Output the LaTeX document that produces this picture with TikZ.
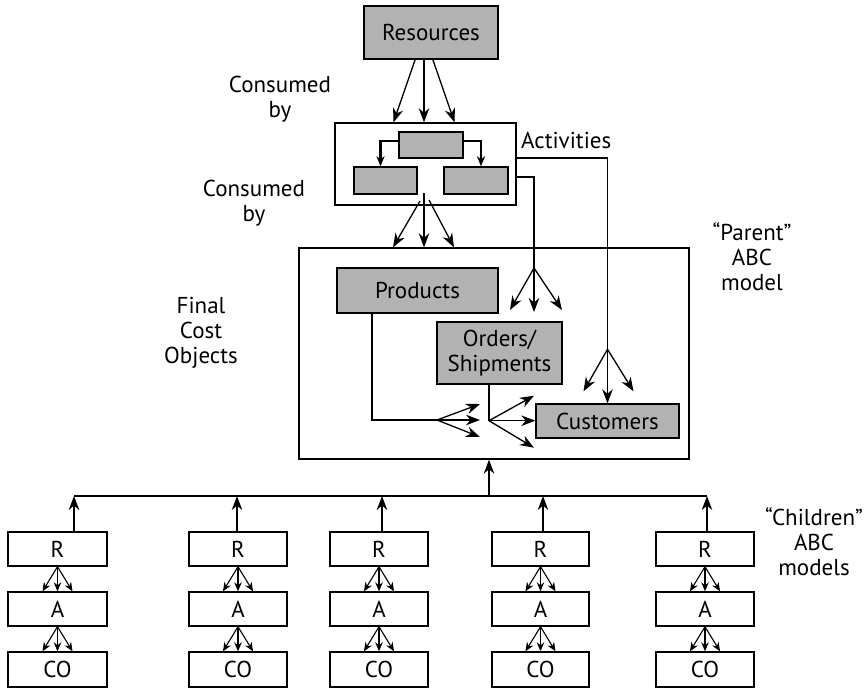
\documentclass[tikz,border=0pt]{standalone}
\usepackage{fontspec}
\setmainfont{PT Sans}
\usetikzlibrary{arrows.meta,positioning,calc,backgrounds}

\definecolor{boxgrey}{gray}{0.7}
\tikzset{
  greybox/.style={draw, line width=1.4pt, fill=boxgrey, inner sep=0pt, align=center},
  whitebox/.style={draw, line width=1.4pt, fill=white, inner sep=0pt, align=center},
  lbl/.style={inner sep=0pt, align=center},
  line/.style={line width=1.3pt},
  link/.style={line width=1.3pt, -{Stealth[length=14pt,width=10.5pt,inset=4.5pt]}},
  thicklink/.style={line width=2.2pt, -{Stealth[length=10pt,width=8pt,inset=3pt]}},
  kidlink/.style={line width=1.1pt, -{Stealth[length=9pt,width=7.5pt,inset=3pt]}}
}

\begin{document}
\begin{tikzpicture}[x=1pt,y=-1pt,font=\fontsize{23}{25}\selectfont]
  \useasboundingbox (0,0) rectangle (867,689);

  % parent model
  \node[greybox, minimum width=134pt, minimum height=53pt] (res) at (431,32.5) {Resources};
  \node[whitebox, minimum width=181pt, minimum height=82pt] (act) at (425.5,164) {};
  \node[greybox, minimum width=64pt, minimum height=26pt] (act1) at (431,145) {};
  \node[greybox, minimum width=63pt, minimum height=27pt] (act2) at (385.5,180.5) {};
  \node[greybox, minimum width=64pt, minimum height=27pt] (act3) at (476,180.5) {};
  \node[whitebox, minimum width=390pt, minimum height=211pt] (par) at (494,353.5) {};
  \node[greybox, minimum width=161pt, minimum height=45pt] (prod) at (417.5,290.5) {Products};
  \node[greybox, minimum width=125pt, minimum height=62pt] (ord) at (499.5,353) {Orders/\\Shipments};
  \node[greybox, minimum width=143pt, minimum height=34pt] (cust) at (607.5,421) {Customers};

  \node[lbl] (cons1) at (280,99) {Consumed\\by};
  \node[lbl] (cons2) at (254,203) {Consumed\\by};
  \node[lbl, anchor=west] (actlbl) at (521,140) {Activities};
  \node[lbl] (parlbl) at (752,257) {“Parent”\\ABC\\model};
  \node[lbl] (final) at (201,333) {Final\\Cost\\Objects};
  \node[lbl] (kidlbl) at (814,542) {“Children”\\ABC\\models};

  % resources consumed by activities
  \begin{scope}[on background layer]
    \coordinate (rf) at (424,34);
    \draw[link] (rf) -- ($(act.north)+(-32,0)$);
    \draw[link] (rf) -- (act.north -| rf);
    \draw[link] (rf) -- ($(act.north)+(29,0)$);
  \end{scope}
  \draw[thicklink] ([yshift=4pt]act1.west) -| ($(act2.north)+(-5,0)$);
  \draw[thicklink] ([yshift=4pt]act1.east) -| ($(act3.north)+(5,0)$);

  % activities consumed by cost objects
  \coordinate (af) at (424,193);
  \draw[link] (af) -- (par.north -| af);
  \draw[link] ($(af)+(-4,8)$) -- ($(par.north)+(-101,0)$);
  \draw[link] ($(af)+(5,7)$) -- ($(par.north)+(-40,0)$);

  \coordinate (of) at (534,268);
  \draw[line] ([yshift=-13pt]act.east) -| (of);
  \draw[link] (of) -- ++(-24,42);
  \draw[link] (of) -- ++(0,44);
  \draw[link] (of) -- ++(28,42);

  \coordinate (cf) at ($(cust.north)+(0,-54)$);
  \draw[link] ([yshift=6pt]act.east) -| (cust.north);
  \draw[link] (cf) -- ++(-24,42);
  \draw[link] (cf) -- ++(26,42);

  \coordinate (pf) at (437,420);
  \draw[line] ([xshift=-45.5pt]prod.south) |- (pf);
  \draw[link] (pf) -- ++(43,-16);
  \draw[link] (pf) -- ++(43,0);
  \draw[link] (pf) -- ++(43,17);

  \coordinate (sf) at ($(ord.south)+(-10.5,36)$);
  \draw[line] ([xshift=-10.5pt]ord.south) -- (sf);
  \draw[link] (sf) -- (cust.west |- sf);
  \draw[link] (sf) -- ++(45,-25);
  \draw[link] (sf) -- ++(45,27);

  % children models
  \coordinate (hub) at (489,496);
  \draw[link] (hub) -- (par.south -| hub);
  \foreach \x/\w/\ax [count=\i] in {57.5/99/74, 238/98/237, 379/98/382, 540.5/97/543, 705/98/707} {
    \node[whitebox, minimum width=\w pt, minimum height=34pt] (cr\i) at (\x,549) {R};
    \node[whitebox, minimum width=\w pt, minimum height=34pt] (ca\i) at (\x,609) {A};
    \node[whitebox, minimum width=\w pt, minimum height=35pt] (cco\i) at (\x,669.5) {CO};
    \coordinate (b\i) at (\ax,496);
    \draw[link] (cr\i.north -| b\i) -- (b\i);
    \draw[kidlink] (cr\i.south) -- ($(ca\i.north)+(-15,0)$);
    \draw[kidlink] (cr\i.south) -- (ca\i.north);
    \draw[kidlink] (cr\i.south) -- ($(ca\i.north)+(15,0)$);
    \draw[kidlink] (ca\i.south) -- ($(cco\i.north)+(-15,0)$);
    \draw[kidlink] (ca\i.south) -- (cco\i.north);
    \draw[kidlink] (ca\i.south) -- ($(cco\i.north)+(15,0)$);
  }
  \draw[line] (b1) -- (b5);
\end{tikzpicture}
\end{document}
